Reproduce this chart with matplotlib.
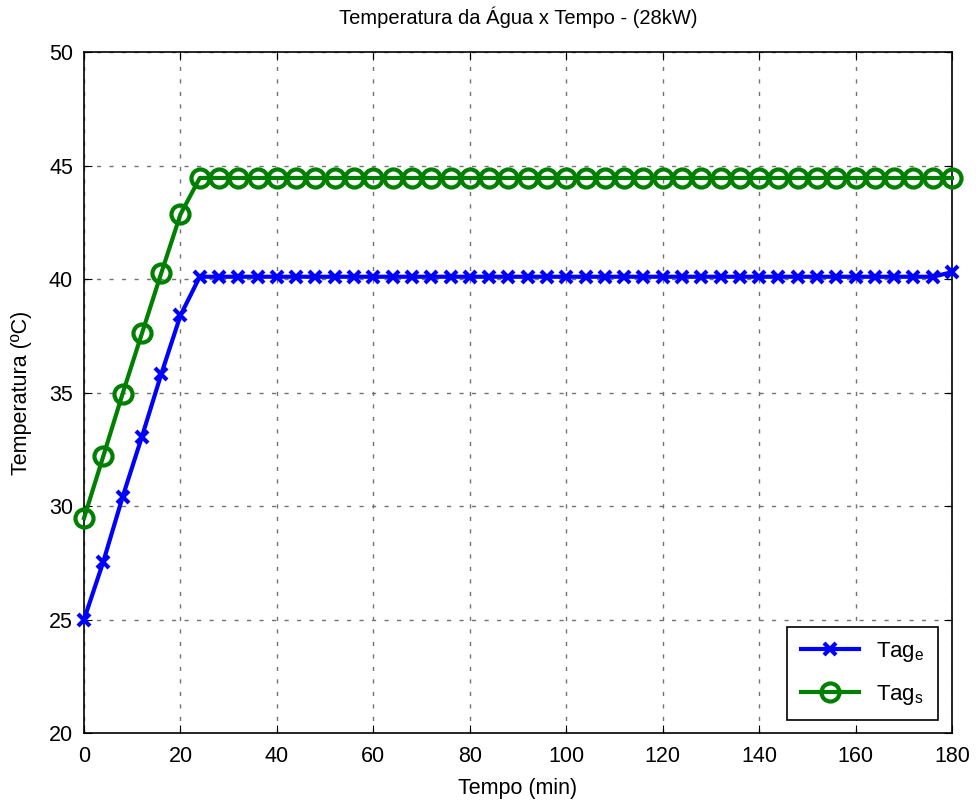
import numpy as np
import matplotlib.pyplot as plt

plt.rcParams['font.family'] = ['Liberation Sans', 'DejaVu Sans']

# tempo (min), amostras a cada 4 min
tempo = np.arange(0, 181, 4)

# temperatura de entrada (Tag_e)
tag_e = [25.0, 27.55, 30.4, 33.05, 35.8, 38.4] + [40.1] * 39 + [40.3]
# temperatura de saida (Tag_s)
tag_s = [29.47, 32.2, 34.95, 37.6, 40.25, 42.85] + [44.45] * 40

fig = plt.figure(figsize=(9.76, 8.05), dpi=100)
ax = fig.add_axes([0.0861, 0.0894, 0.8893, 0.846])

ax.plot(tempo, tag_e, color='blue', linewidth=3, marker='x',
        markersize=9, markeredgewidth=3, label='Tag$_\\mathregular{e}$',
        clip_on=False, zorder=3)
ax.plot(tempo, tag_s, color='green', linewidth=3, marker='o',
        markersize=13, markeredgewidth=3, markerfacecolor='none',
        label='Tag$_\\mathregular{s}$', clip_on=False, zorder=3)

ax.set_xlim(0, 180)
ax.set_ylim(20, 50)
ax.set_xticks(np.arange(0, 181, 20))
ax.set_yticks(np.arange(20, 51, 5))
ax.tick_params(direction='in', length=6, labelsize=15.5, top=True,
               right=True)
ax.tick_params(axis='x', pad=9)
ax.tick_params(axis='y', pad=8)
ax.grid(True, linestyle=(0, (3, 6)), color='0.45', linewidth=1)
for s in ax.spines.values():
    s.set_linewidth(1.2)

ax.set_title('Temperatura da Água x Tempo - (28kW)', fontsize=14.5, pad=20)
ax.set_xlabel('Tempo (min)', fontsize=15.5, labelpad=8)
ax.set_ylabel('Temperatura (ºC)', fontsize=15.5, labelpad=12)

leg = ax.legend(loc='lower right', fontsize=16, fancybox=False,
                framealpha=1, edgecolor='black', borderpad=0.6,
                labelspacing=0.85, handlelength=2.6, borderaxespad=0,
                bbox_to_anchor=(0.984, 0.019))
leg.get_frame().set_linewidth(1.2)

fig.savefig('out.png', dpi=100)
